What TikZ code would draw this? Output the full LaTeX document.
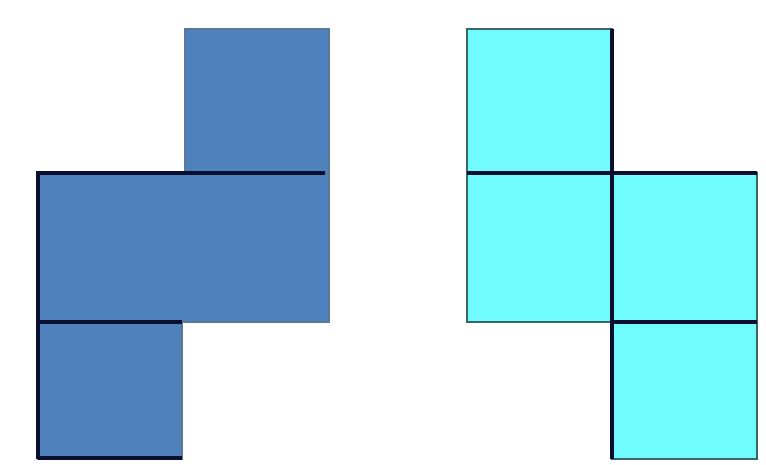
\documentclass[tikz,border=0pt]{standalone}
\definecolor{bluefill}{HTML}{4F81BD}
\definecolor{blueedge}{HTML}{5B7896}
\definecolor{cyanfill}{HTML}{70FCFC}
\definecolor{cyanedge}{HTML}{3A6666}
\definecolor{darkline}{HTML}{0A0F30}
\tikzset{
  bluesq/.style={fill=bluefill, draw=blueedge, line width=2.5pt},
  cyansq/.style={fill=cyanfill, draw=cyanedge, line width=2.5pt},
  heavy/.style={draw=darkline, line width=4pt},
  medium/.style={draw=darkline, line width=3.2pt},
}
\begin{document}
\begin{tikzpicture}[x=1pt,y=-1pt]
\useasboundingbox[fill=white] (0,0) rectangle (766,465);
% left (blue) shape
\path[bluesq] (185,29) rectangle (329,173);
\path[bluesq] (38,173) rectangle (329,322);
\path[bluesq] (38,322) rectangle (182,459);
\draw[heavy] (325,173) -- (38,173) -- (38,459);
\draw[medium] (38,322) -- (182,322);
\draw[medium] (38,458) -- (182,458);
% right (cyan) shape
\path[cyansq] (467,29) rectangle (612,173);
\path[cyansq] (467,173) rectangle (757,322);
\path[cyansq] (612,322) rectangle (757,459);
\draw[heavy] (467,173) -- (757,173);
\draw[medium] (612,29) -- (612,459);
\draw[medium] (612,322) -- (757,322);
\end{tikzpicture}
\end{document}
